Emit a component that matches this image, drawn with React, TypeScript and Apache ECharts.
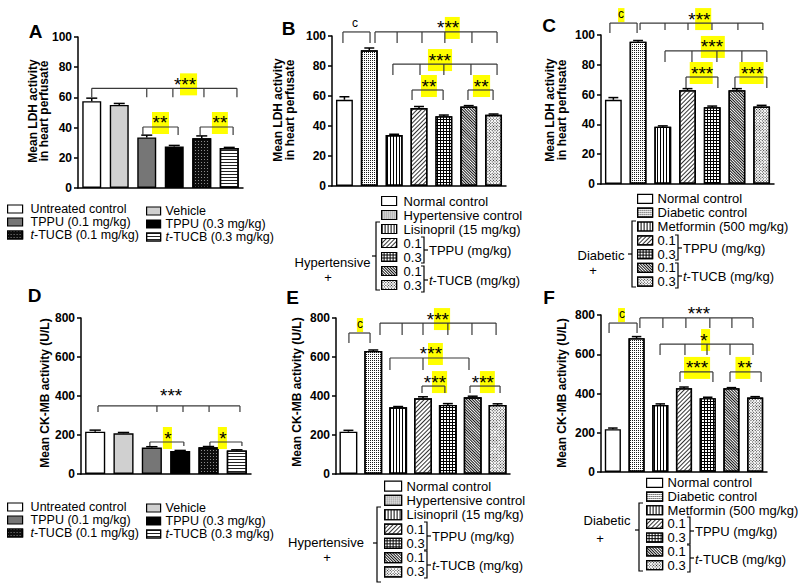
import React, { useEffect, useRef } from 'react';
import * as echarts from 'echarts';

const FONT = '"Liberation Sans", Arial, Helvetica, sans-serif';

// ---------------- data ----------------
const catsAD = ['Untreated control', 'Vehicle', 'TPPU (0.1 mg/kg)', 'TPPU (0.3 mg/kg)', 't-TUCB (0.1 mg/kg)', 't-TUCB (0.3 mg/kg)'];
const catsHyp = ['Normal control', 'Hypertensive control', 'Lisinopril (15 mg/kg)', '0.1', '0.3', '0.1 ', '0.3 '];
const catsDia = ['Normal control', 'Diabetic control', 'Metformin (500 mg/kg)', '0.1', '0.3', '0.1 ', '0.3 '];

const ldhA = [57.5, 55, 33.5, 27.5, 33, 26.5];
const ldhAErr = [2, 1, 1.5, 0.7, 1.5, 0.4];
const ldhB = [57.5, 90.5, 34, 52, 46.5, 53, 47.5];
const ldhBErr = [2, 1.5, 0.5, 1, 0.8, 0.6, 0.5];
const ldhC = [56.5, 95.5, 38.5, 63, 51.5, 63, 52];
const ldhCErr = [1.5, 0.8, 0.5, 1, 0.8, 1, 0.8];
const ckD = [217, 209, 136, 118, 137, 121];
const ckDErr = [8, 4, 4, 3, 4, 3];
const ckE = [217, 631, 342, 388, 354, 393, 354];
const ckEErr = [7, 5, 4, 8, 7, 6, 6];
const ckF = [218, 682, 342, 427, 376, 427, 379];
const ckFErr = [6, 8, 5, 6, 5, 3, 5];

const ldhTicks = [0, 20, 40, 60, 80, 100];
const ckTicks = [0, 200, 400, 600, 800];

// significance brackets (x in category units, y in data units)
const brA = [
  { y: 66, from: 0, to: 5.28, ticks: [0, 2.0, 2.95, 4.08, 5.28], tick: 9, label: '***', at: 3.39, hl: [3.21, 3.83] },
  { y: 40.4, from: 1.86, to: 3.14, ticks: [1.86, 3.14], tick: 8, label: '**', at: 2.48, hl: [2.19, 2.81] },
  { y: 40.4, from: 3.94, to: 5.14, ticks: [3.94, 5.14], tick: 8, label: '**', at: 4.66, hl: [4.37, 4.95] },
];
const brB = [
  { y: 102.7, from: -0.06, to: 1.03, ticks: [-0.06, 1.03], tick: 11, label: 'c', at: 0.43, hl: null },
  { y: 102.7, from: 1.23, to: 6.14, ticks: [1.23, 2.12, 3.12, 4.04, 5.13, 6.14], tick: 11, label: '***', at: 4.17, hl: [4.04, 4.64] },
  { y: 81.3, from: 1.95, to: 6.14, ticks: [1.95, 3.04, 4.0, 5.09, 6.14], tick: 11, label: '***', at: 3.84, hl: [3.36, 4.33] },
  { y: 64, from: 2.72, to: 3.97, ticks: [2.72, 3.97], tick: 10, label: '**', at: 3.4, hl: [3.08, 3.72] },
  { y: 64, from: 4.97, to: 5.98, ticks: [4.97, 5.98], tick: 10, label: '**', at: 5.5, hl: [5.17, 5.86] },
];
const brC = [
  { y: 108, from: -0.14, to: 0.96, ticks: [-0.14, 0.96], tick: 10, label: 'c', at: 0.31, hl: [0.19, 0.45] },
  { y: 108, from: 1.08, to: 6.05, ticks: [1.08, 2.09, 3.02, 3.99, 5.04, 6.05], tick: 7, label: '***', at: 3.48, hl: [3.31, 3.96] },
  { y: 89.3, from: 2.09, to: 6.21, ticks: [2.09, 3.18, 4.19, 5.2, 6.21], tick: 11, label: '***', at: 3.99, hl: [3.54, 4.51] },
  { y: 71.8, from: 2.94, to: 4.23, ticks: [2.94, 4.23], tick: 11, label: '***', at: 3.59, hl: [3.09, 4.02] },
  { y: 71.8, from: 4.92, to: 6.21, ticks: [4.92, 6.21], tick: 11, label: '***', at: 5.61, hl: [5.1, 6.08] },
];
const brD = [
  { y: 349, from: 0.1, to: 5.11, ticks: [0.1, 2.18, 3.1, 4.02, 5.11], tick: 6, label: '***', at: 2.68, hl: null, lift: 6 },
  { y: 164, from: 1.93, to: 3.13, ticks: [1.93, 3.13], tick: 4, label: '*', at: 2.57, hl: [2.39, 2.71] },
  { y: 164, from: 4.05, to: 5.18, ticks: [4.05, 5.18], tick: 4, label: '*', at: 4.51, hl: [4.33, 4.65] },
];
const brE = [
  { y: 723, from: 0.02, to: 0.87, ticks: [0.02, 0.87], tick: 10, label: 'c', at: 0.47, hl: [0.34, 0.59] },
  { y: 774, from: 1.27, to: 5.94, ticks: [1.27, 2.16, 3.0, 4.0, 4.97, 5.94], tick: 12, label: '***', at: 3.6, hl: [3.44, 4.09] },
  { y: 595, from: 1.67, to: 4.85, ticks: [1.67, 3.0, 4.85], tick: 12, label: '***', at: 3.32, hl: [3.2, 3.8] },
  { y: 451, from: 2.96, to: 3.88, ticks: [2.96, 3.88], tick: 7, label: '***', at: 3.48, hl: [3.36, 3.97] },
  { y: 451, from: 4.89, to: 6.1, ticks: [4.89, 6.1], tick: 7, label: '***', at: 5.41, hl: [5.29, 5.89] },
];
const brF = [
  { y: 759, from: -0.16, to: 1.02, ticks: [-0.16, 1.02], tick: 10, label: 'c', at: 0.39, hl: [0.22, 0.51] },
  { y: 785, from: 1.14, to: 5.91, ticks: [1.14, 2.11, 3.08, 4.09, 5.02, 5.91], tick: 10, label: '***', at: 3.63, hl: null },
  { y: 652, from: 1.99, to: 5.91, ticks: [1.99, 3.04, 3.97, 4.94, 5.91], tick: 11, label: '*', at: 3.84, hl: [3.72, 4.1] },
  { y: 510, from: 2.83, to: 4.22, ticks: [2.83, 4.22], tick: 10, label: '***', at: 3.55, hl: [3.0, 4.1] },
  { y: 510, from: 4.94, to: 6.25, ticks: [4.94, 6.25], tick: 10, label: '**', at: 5.57, hl: [5.17, 5.8] },
];

// ---------------- styles ----------------
const PI4 = Math.PI / 4;
const patAD: any[] = [
  { color: '#ffffff' },
  { color: '#d0d0d0' },
  { color: '#767676' },
  { color: '#000000' },
  { color: '#0d0d0d', decal: { symbol: 'rect', symbolSize: 1, color: '#8c8c8c', dashArrayX: [1, 2], dashArrayY: [1, 2] } },
  { color: '#ffffff', decal: { symbol: 'rect', symbolSize: 1, color: '#222222', dashArrayX: [1, 0], dashArrayY: [1, 2] } },
];
const patHyp: any[] = [
  { color: '#ffffff' },
  { color: '#ffffff', decal: { symbol: 'rect', symbolSize: 1, color: '#1a1a1a', dashArrayX: [1, 1], dashArrayY: [1, 1] } },
  { color: '#ffffff', decal: { symbol: 'rect', symbolSize: 1, color: '#000000', dashArrayX: [1, 2], dashArrayY: [1, 0] } },
  { color: '#ffffff', decal: { symbol: 'rect', symbolSize: 1, color: '#333333', dashArrayX: [1, 0], dashArrayY: [1, 2], rotation: -PI4 } },
  { color: '#000000', decal: { symbol: 'rect', symbolSize: 1, color: '#ffffff', dashArrayX: [2, 1], dashArrayY: [2, 1] } },
  { color: '#ffffff', decal: { symbol: 'rect', symbolSize: 1, color: '#111111', dashArrayX: [1, 0], dashArrayY: [1, 1], rotation: PI4 } },
  { color: '#ffffff', decal: { symbol: 'rect', symbolSize: 1, color: '#222222', dashArrayX: [1, 1], dashArrayY: [1, 1], rotation: PI4 } },
];

const LINE = { stroke: '#3a3a3a', lineWidth: 1.2 };

const panels = [
  { grid: { left: 78, top: 37, width: 165, height: 151 }, ticks: ldhTicks, names: catsAD, vals: ldhA, errs: ldhAErr, pats: patAD, br: brA, bw: '69%' },
  { grid: { left: 332, top: 36, width: 174, height: 150 }, ticks: ldhTicks, names: catsHyp, vals: ldhB, errs: ldhBErr, pats: patHyp, br: brB, bw: '68%' },
  { grid: { left: 601, top: 35, width: 173, height: 149 }, ticks: ldhTicks, names: catsDia, vals: ldhC, errs: ldhCErr, pats: patHyp, br: brC, bw: '68%' },
  { grid: { left: 81, top: 318, width: 170, height: 156 }, ticks: ckTicks, names: catsAD, vals: ckD, errs: ckDErr, pats: patAD, br: brD, bw: '71%' },
  { grid: { left: 336, top: 318, width: 174, height: 156 }, ticks: ckTicks, names: catsHyp, vals: ckE, errs: ckEErr, pats: patHyp, br: brE, bw: '72%' },
  { grid: { left: 601, top: 315, width: 166, height: 157 }, ticks: ckTicks, names: catsDia, vals: ckF, errs: ckFErr, pats: patHyp, br: brF, bw: '68%' },
];

function errorSeries(p: any, gi: number) {
  return {
    type: 'custom', xAxisIndex: gi, yAxisIndex: gi, silent: true, z: 4,
    encode: { x: 0, y: 1 },
    data: p.vals.map((v: number, j: number) => [j, v, p.errs[j]]),
    renderItem: (params: any, api: any) => {
      const j = api.value(0), v = api.value(1), e = api.value(2);
      const a = api.coord([j, v]);
      const b = api.coord([j, v + e]);
      const half = api.size([1, 0])[0] * 0.2;
      const st = { stroke: '#000', lineWidth: 1.5 };
      return {
        type: 'group', children: [
          { type: 'line', shape: { x1: a[0], y1: a[1], x2: b[0], y2: b[1] }, style: st },
          { type: 'line', shape: { x1: b[0] - half, y1: b[1], x2: b[0] + half, y2: b[1] }, style: st },
        ],
      };
    },
  };
}

function bracketSeries(p: any, gi: number) {
  return {
    type: 'custom', xAxisIndex: gi, yAxisIndex: gi, silent: true, z: 6, clip: false,
    encode: { x: 0, y: 1 },
    data: p.br.map((b: any) => [0, Math.min(b.y, p.ticks[p.ticks.length - 1])]),
    renderItem: (params: any, api: any) => {
      const b = p.br[params.dataIndex];
      const c0 = api.coord([0, b.y]);
      const band = api.size([1, 0])[0];
      const X = (u: number) => c0[0] + u * band;
      const Y = c0[1];
      const isC = b.label === 'c';
      const kids: any[] = [];
      if (b.hl) {
        kids.push({ type: 'rect', shape: { x: X(b.hl[0]), y: Y - 15, width: X(b.hl[1]) - X(b.hl[0]), height: isC ? 14 : 22 }, style: { fill: '#ffff00' } });
      }
      kids.push({ type: 'line', shape: { x1: X(b.from), y1: Y, x2: X(b.to), y2: Y }, style: LINE });
      b.ticks.forEach((t: number) => kids.push({ type: 'line', shape: { x1: X(t), y1: Y, x2: X(t), y2: Y + b.tick }, style: LINE }));
      kids.push({
        type: 'text', x: X(b.at), y: Y + (isC ? -9 : -4) - (b.lift || 0),
        style: { text: b.label, fill: '#000', font: isC ? `12px ${FONT}` : `19px ${FONT}`, align: 'center', verticalAlign: 'middle', textAlign: 'center', textVerticalAlign: 'middle' },
      });
      return { type: 'group', children: kids };
    },
  };
}

function txt(text: string, x: number, y: number, font: string, align = 'center', extra: any = {}) {
  return {
    type: 'text', x, y, silent: true, ...extra.el,
    style: { text, fill: '#000', font, align, verticalAlign: 'middle', textAlign: align, textVerticalAlign: 'middle', ...(extra.style || {}) },
  };
}
function poly(points: number[][]) {
  return { type: 'polyline', silent: true, shape: { points }, style: { stroke: '#000', fill: 'none', lineWidth: 1.2 } };
}
function ln(x1: number, y1: number, x2: number, y2: number) {
  return { type: 'line', silent: true, shape: { x1, y1, x2, y2 }, style: { stroke: '#000', lineWidth: 1.2 } };
}
const italicT = { i: { fontStyle: 'italic', fontFamily: FONT, fontSize: 13, fill: '#000', color: '#000' } };
function rbracket(x: number, y1: number, y2: number, ny: number) {
  return [poly([[x - 3, y1], [x, y1], [x, y2], [x - 3, y2]]), ln(x, ny, x + 4, ny)];
}
function lbrace(x: number, y1: number, y2: number, ny: number) {
  return [poly([[x + 4, y1], [x, y1], [x, y2], [x + 4, y2]]), ln(x, ny, x - 4, ny)];
}
function groupLabel(word: string, wx: number, wy: number, px: number, py: number) {
  return [
    txt(word, wx, wy, `13px ${FONT}`, 'center', { style: { lineHeight: 10 } }),
    txt('+', px, py, `13px ${FONT}`, 'center', { style: { lineHeight: 10 } }),
  ];
}
function subLabels(x: number, y1: number, y2: number) {
  return [
    txt('TPPU (mg/kg)', x, y1, `13px ${FONT}`, 'left'),
    txt('{i|t}-TUCB (mg/kg)', x, y2, `13px ${FONT}`, 'left', { style: { rich: italicT } }),
  ];
}

function legend(left: number, top: number, data: string[], o: any) {
  return {
    orient: 'vertical', left, top, data, icon: 'rect', itemWidth: o.w, itemHeight: o.h, itemGap: 0, padding: 0,
    selectedMode: false,
    itemStyle: { borderColor: '#000', borderWidth: 1.2 },
    formatter: (n: string) => (n.startsWith('t-') ? '{i|t}' + n.slice(1) : n),
    textStyle: {
      fontFamily: FONT, fontSize: o.fs, color: '#000', lineHeight: o.lh, padding: [0, 0, 0, o.pad || 0],
      rich: { i: { fontStyle: 'italic', fontFamily: FONT, fontSize: o.fs, color: '#000', lineHeight: o.lh } },
    },
  };
}

function buildOption() {
  const series: any[] = [];
  panels.forEach((p, gi) => {
    p.names.forEach((name, j) => {
      const s: any = {
        type: 'bar', name, xAxisIndex: gi, yAxisIndex: gi, barWidth: p.bw, barGap: '-100%', silent: true, z: 2,
        data: p.vals.map((v, k) => (k === j ? v : '-')),
        itemStyle: { color: p.pats[j].color, borderColor: '#000', borderWidth: 1.4 },
      };
      if (p.pats[j].decal) s.itemStyle.decal = p.pats[j].decal;
      series.push(s);
    });
    series.push(errorSeries(p, gi));
    series.push(bracketSeries(p, gi));
  });

  const graphic: any[] = [
    txt('A', 35.5, 31, `bold 19px ${FONT}`),
    txt('B', 288.5, 28, `bold 19px ${FONT}`),
    txt('C', 549, 25, `bold 19px ${FONT}`),
    txt('D', 34.5, 295, `bold 19px ${FONT}`),
    txt('E', 292.5, 297, `bold 19px ${FONT}`),
    txt('F', 549, 297, `bold 19px ${FONT}`),
    txt('Mean LDH activity\nin heart perfusate', 38.5, 111, `bold 12px ${FONT}`, 'center', { el: { rotation: Math.PI / 2 }, style: { lineHeight: 11 } }),
    txt('Mean LDH activity\nin heart perfusate', 284, 110, `bold 12px ${FONT}`, 'center', { el: { rotation: Math.PI / 2 }, style: { lineHeight: 11.5 } }),
    txt('Mean LDH activity\nin heart perfusate', 556, 110, `bold 12px ${FONT}`, 'center', { el: { rotation: Math.PI / 2 }, style: { lineHeight: 11.5 } }),
    txt('Mean CK-MB activity (U/L)', 45, 393, `bold 12px ${FONT}`, 'center', { el: { rotation: Math.PI / 2 } }),
    txt('Mean CK-MB activity (U/L)', 297, 392, `bold 12px ${FONT}`, 'center', { el: { rotation: Math.PI / 2 } }),
    txt('Mean CK-MB activity (U/L)', 562, 393, `bold 12px ${FONT}`, 'center', { el: { rotation: Math.PI / 2 } }),
    // B legend extras
    ...groupLabel('Hypertensive', 332.5, 262, 328, 277),
    ...subLabels(429, 250, 280),
    ...lbrace(376, 222, 290, 256),
    ...rbracket(424, 237, 263, 250),
    ...rbracket(424, 266, 292, 280),
    // C legend extras
    ...groupLabel('Diabetic', 601, 255, 593, 270),
    ...subLabels(683, 248, 276),
    ...lbrace(632, 221, 287, 254),
    ...rbracket(678, 235, 260, 248),
    ...rbracket(678, 263, 288, 276),
    // E legend extras
    ...groupLabel('Hypertensive', 326, 542, 327, 557),
    ...subLabels(432, 536, 565),
    ...lbrace(377, 507, 582, 543),
    ...rbracket(427, 522, 550, 536),
    ...rbracket(427, 551, 578, 565),
    // F legend extras
    ...groupLabel('Diabetic', 607, 520, 600, 538),
    ...subLabels(695, 531, 559),
    ...lbrace(639, 503, 571, 530),
    ...rbracket(690, 517, 544, 531),
    ...rbracket(690, 545, 572, 558),
  ];

  return {
    animation: false,
    backgroundColor: '#ffffff',
    textStyle: { fontFamily: FONT },
    grid: panels.map((p) => ({ ...p.grid, containLabel: false })),
    xAxis: panels.map((p, gi) => ({
      type: 'category', gridIndex: gi, data: p.names.map((_, j) => String(j)),
      axisLine: { show: true, lineStyle: { color: '#000', width: 1.5 } },
      axisTick: { show: false }, axisLabel: { show: false }, splitLine: { show: false },
    })),
    yAxis: panels.map((p, gi) => ({
      type: 'value', gridIndex: gi, min: p.ticks[0], max: p.ticks[p.ticks.length - 1], interval: p.ticks[1] - p.ticks[0],
      axisLine: { show: true, lineStyle: { color: '#000', width: 1.5 } },
      axisTick: { show: true, length: 4, lineStyle: { color: '#000', width: 1.5 } },
      axisLabel: { color: '#000', fontWeight: 'bold', fontSize: 12, fontFamily: FONT, margin: 6 },
      splitLine: { show: false },
    })),
    legend: [
      legend(7, 202.5, [catsAD[0], catsAD[2], catsAD[4]], { w: 15, h: 8, fs: 12.5, lh: 13, pad: 3 }),
      legend(146, 204.5, [catsAD[1], catsAD[3], catsAD[5]], { w: 14, h: 8, fs: 12.5, lh: 13 }),
      legend(7, 500.5, [catsAD[0], catsAD[2], catsAD[4]], { w: 15, h: 8, fs: 12.5, lh: 13, pad: 3 }),
      legend(146, 501.5, [catsAD[1], catsAD[3], catsAD[5]], { w: 14, h: 8, fs: 12.5, lh: 13 }),
      legend(381, 194, catsHyp, { w: 15, h: 9, fs: 13, lh: 14, pad: 2 }),
      legend(637, 192, catsDia, { w: 15, h: 9, fs: 13, lh: 13.8 }),
      legend(384, 479, catsHyp, { w: 17, h: 10, fs: 13, lh: 14.3 }),
      legend(646, 476, catsDia, { w: 16, h: 9, fs: 13, lh: 13.7 }),
    ],
    graphic: { elements: graphic },
    series,
  };
}

export default function App() {
  const ref = useRef<HTMLDivElement>(null);
  useEffect(() => {
    document.body.style.margin = '0';
    const chart = echarts.init(ref.current as HTMLDivElement, null, { renderer: 'svg' });
    chart.setOption(buildOption() as any);
    return () => chart.dispose();
  }, []);
  return <div ref={ref} style={{ width: 800, height: 586, background: '#fff' }} />;
}
